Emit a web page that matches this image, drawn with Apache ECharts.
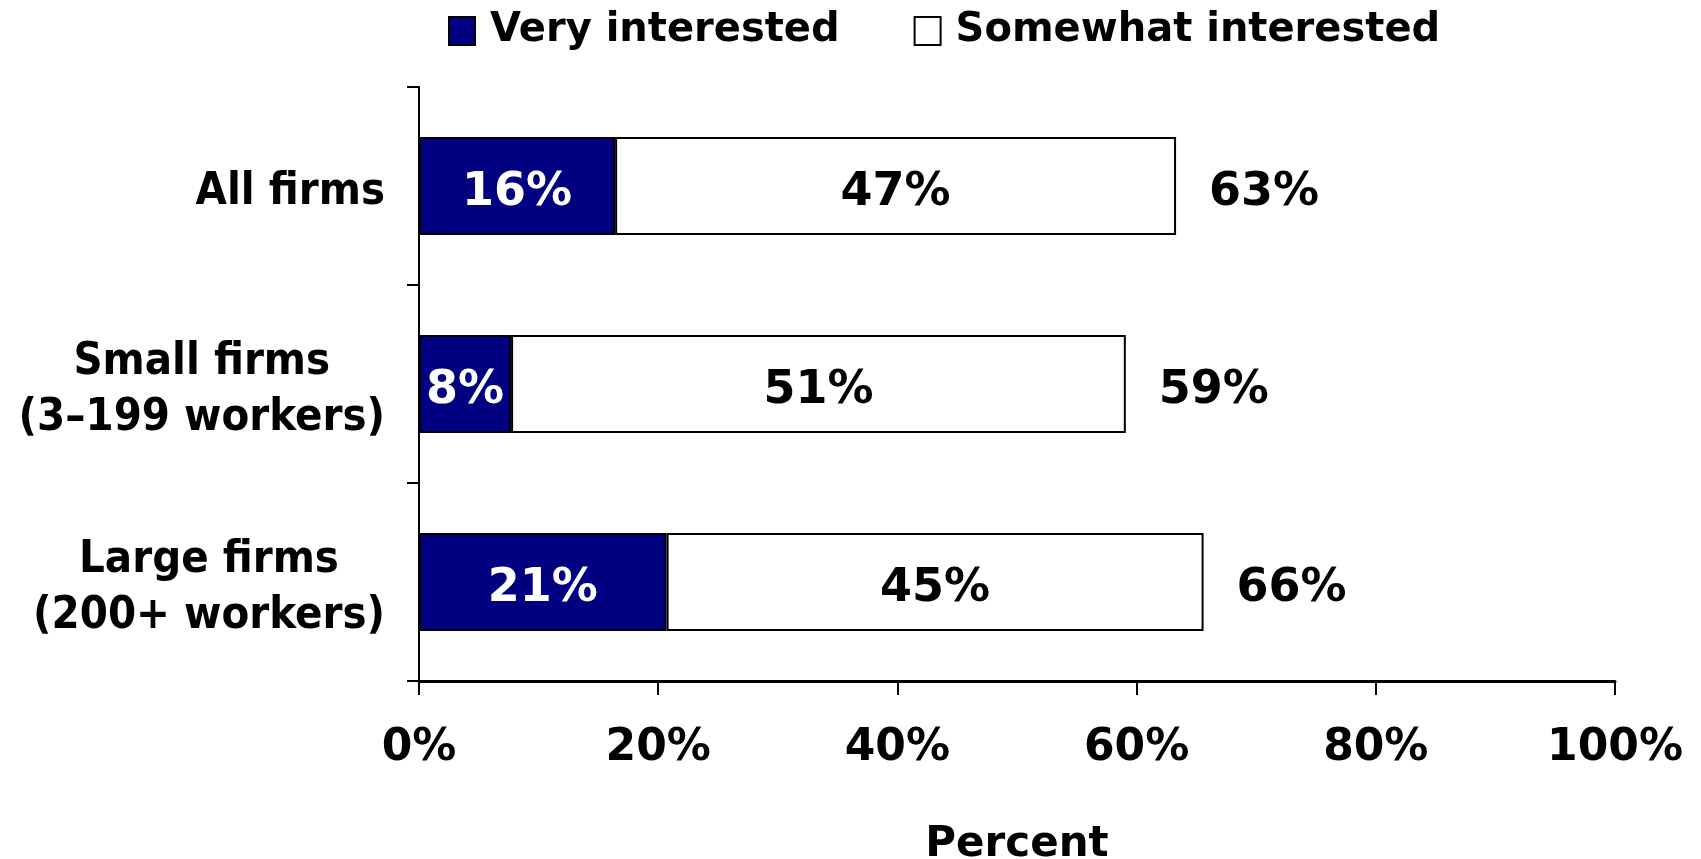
<!DOCTYPE html>
<html>
<head>
<meta charset="utf-8">
<script src="https://cdn.jsdelivr.net/npm/echarts@6/dist/echarts.min.js"></script>
<style>
html,body{margin:0;padding:0;background:#fff}
#chart{width:1701px;height:859px}
</style>
</head>
<body>
<div id="chart"></div>
<script>
const categories = ['All firms', 'Small firms\n(3–199 workers)', 'Large firms\n(200+ workers)'];
const veryInterested = [16.4, 7.7, 20.7];
const somewhatInterested = [46.9, 51.4, 44.9];
const totals = veryInterested.map((v, i) => +(v + somewhatInterested[i]).toFixed(1));
const xTicks = {min: 0, max: 100, interval: 20};

const FONT = 'DejaVu Sans';
const NAVY = '#000080';

const chart = echarts.init(document.getElementById('chart'));
const pct = p => Math.round(p.value) + '%';
const barLabel = (color, pos) => ({
    show: true, position: pos, formatter: pct, color: color, offset: [0, 7],
    fontFamily: FONT, fontWeight: 'bold', fontSize: 46
});

chart.setOption({
    backgroundColor: '#ffffff',
    animation: false,
    legend: {
        data: ['Very interested', 'Somewhat interested'],
        left: 443, top: 6,
        icon: 'rect', itemWidth: 26, itemHeight: 28, itemGap: 74,
        textStyle: {fontFamily: FONT, fontWeight: 'bold', fontSize: 40, color: '#000', padding: [0, 0, 0, 10]}
    },
    grid: {left: 419, right: 86, top: 87, bottom: 178, containLabel: false, outerBoundsMode: 'none'},
    xAxis: {
        type: 'value', min: xTicks.min, max: xTicks.max, interval: xTicks.interval,
        name: 'Percent', nameLocation: 'middle', nameGap: 143,
        nameTextStyle: {fontFamily: FONT, fontWeight: 'bold', fontSize: 42, color: '#000'},
        axisLine: {show: true, lineStyle: {color: '#000', width: 3}},
        axisTick: {show: true, length: 14, lineStyle: {color: '#000', width: 2}},
        splitLine: {show: false},
        axisLabel: {formatter: '{value}%', margin: 46, fontFamily: FONT, fontWeight: 'bold', fontSize: 44, color: '#000'}
    },
    yAxis: {
        type: 'category', data: categories, inverse: true,
        axisLine: {show: true, lineStyle: {color: '#000', width: 2}},
        axisTick: {show: true, length: 12, lineStyle: {color: '#000', width: 2}},
        axisLabel: {
            margin: 34,
            formatter: v => v.split('\n').map(s => '{c|' + s + '}').join('\n'),
            rich: {c: {align: 'center', fontFamily: 'DejaVu Sans Condensed', fontWeight: 'bold', fontSize: 45, lineHeight: 56, color: '#000', padding: [13, 0, 0, 0]}}
        }
    },
    series: [
        {
            name: 'Very interested', type: 'bar', stack: 'total', barWidth: 98,
            data: veryInterested,
            itemStyle: {color: NAVY, borderColor: '#000', borderWidth: 2},
            label: barLabel('#fff', 'inside')
        },
        {
            name: 'Somewhat interested', type: 'bar', stack: 'total', barWidth: 98,
            data: somewhatInterested,
            itemStyle: {color: '#fff', borderColor: '#000', borderWidth: 2},
            label: barLabel('#000', 'inside')
        },
        {
            name: 'Total', type: 'bar', barWidth: 98, barGap: '-100%', silent: true, z: 1,
            data: totals,
            itemStyle: {color: 'rgba(0,0,0,0)'},
            label: Object.assign(barLabel('#000', 'right'), {distance: 33})
        }
    ]
});
window.addEventListener('resize', () => chart.resize());
</script>
</body>
</html>
